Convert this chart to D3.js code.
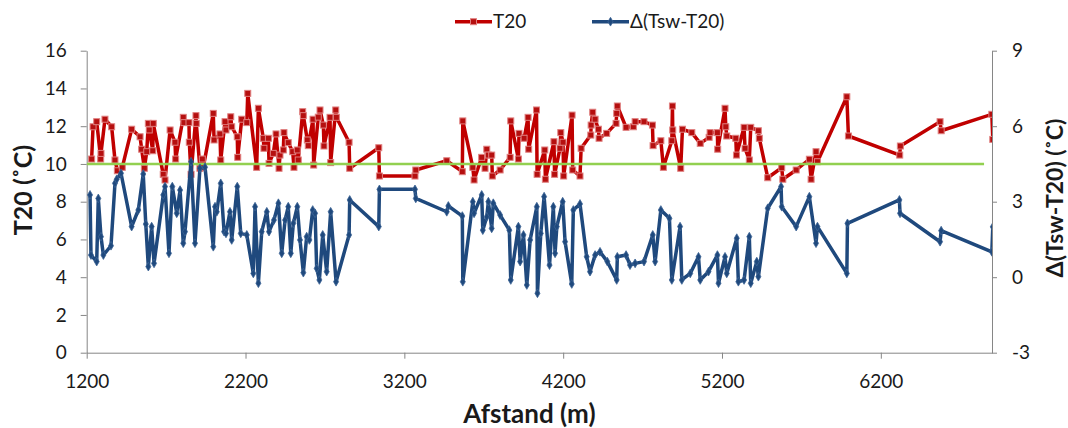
<!DOCTYPE html>
<html>
<head>
<meta charset="utf-8">
<script src="https://cdn.jsdelivr.net/npm/d3@7"></script>
<style>
  html, body { margin: 0; padding: 0; background: #fff; }
  svg { display: block; font-family: Lato, "Open Sans", sans-serif; }
</style>
</head>
<body>
<svg id="chart" width="1068" height="428"></svg>
<script>
// T20 along the transect: distance (m) and temperature (°C)
const distT20 = [1231,1240,1263,1288,1290,1315,1357,1378,1393,1424,1483,1536,1546,1563,1578,1588,1594,1616,1619,1682,
  1693,1725,1756,1760,1808,1812,1844,1846,1857,1888,1890,1913,1928,1934,1997,2002,2039,2044,2071,2077,
  2107,2113,2148,2151,2176,2208,2214,2270,2281,2312,2316,2344,2348,2375,2392,2411,2417,2438,2442,2469,
  2497,2505,2526,2532,2560,2564,2589,2595,2625,2629,2658,2669,2690,2694,2732,2736,2768,2772,2852,2856,
  3039,3043,3267,3272,3467,3565,3568,3631,3639,3687,3708,3719,3729,3750,3754,3803,3866,3870,3918,3922,
  3954,3979,3983,4032,4036,4084,4088,4142,4146,4180,4185,4199,4203,4256,4260,4306,4313,4374,4376,4386,
  4401,4422,4426,4474,4533,4537,4541,4596,4642,4653,4709,4762,4766,4815,4831,4884,4888,4890,4940,4951,
  5010,5063,5119,5125,5171,5173,5219,5224,5230,5287,5291,5339,5345,5372,5381,5429,5435,5488,5576,5583,
  5667,5750,5761,5792,5801,5986,5996,6319,6323,6573,6580,6899,6905];
const valT20 = [10.26,11.97,12.24,10.26,10.56,12.37,11.97,10.21,9.64,9.82,11.84,11.44,10.78,9.77,10.65,12.15,11.80,10.70,12.15,9.45,
  9.15,11.80,11.15,10.26,12.47,12.19,12.19,11.15,9.45,12.56,12.15,9.77,10.26,9.82,12.68,11.27,11.59,10.21,12.24,11.80,
  12.50,11.97,11.44,10.35,12.37,12.19,13.74,9.82,12.95,11.36,10.83,11.36,10.03,10.56,11.59,9.77,10.47,10.74,11.66,11.13,
  10.65,9.82,10.74,10.21,12.77,12.56,11.27,10.97,12.37,9.94,12.48,12.86,12.06,10.95,12.47,10.07,12.86,12.47,11.15,9.77,
  10.86,9.36,9.36,9.68,10.17,9.59,12.28,9.82,9.15,10.35,9.77,10.78,10.47,10.47,9.36,9.68,10.35,12.28,10.26,11.62,
  11.36,12.47,10.78,12.86,9.45,10.74,9.19,11.18,9.45,10.83,11.66,11.15,9.36,12.59,9.68,9.36,10.83,11.53,12.06,12.74,
  12.37,11.84,11.36,11.62,12.15,12.68,13.07,11.94,11.97,12.24,12.24,12.06,10.97,11.23,9.82,11.23,13.07,11.80,9.77,11.84,
  11.66,11.09,11.41,11.66,11.66,10.78,12.95,11.97,11.48,11.36,10.47,11.94,10.83,10.21,11.94,11.76,11.36,9.27,9.80,9.19,
  9.68,10.25,9.19,10.65,10.12,13.56,11.48,10.47,10.95,12.24,11.76,12.63,11.30];

// Δ(Tsw-T20) along the transect: distance (m) and difference (°C)
const distDelta = [1221,1227,1263,1273,1290,1305,1353,1378,1389,1416,1483,1525,1556,1572,1588,1609,1624,1682,1693,1718,
  1739,1767,1788,1808,1819,1857,1882,1913,1945,1997,2008,2019,2044,2065,2077,2102,2113,2148,2170,2208,
  2249,2260,2281,2302,2334,2348,2379,2407,2428,2449,2469,2485,2501,2526,2543,2564,2585,2602,2623,2638,
  2648,2665,2686,2711,2736,2770,2852,2856,3039,3043,3267,3272,3467,3477,3565,3568,3631,3639,3687,3694,
  3719,3729,3750,3760,3803,3861,3870,3918,3929,3950,3971,3992,4034,4038,4059,4080,4114,4138,4149,4160,
  4197,4212,4254,4264,4306,4348,4369,4401,4432,4478,4537,4541,4596,4621,4653,4709,4764,4779,4815,4869,
  4884,4936,4947,5000,5052,5063,5115,5171,5178,5219,5230,5293,5303,5339,5372,5381,5419,5429,5488,5572,
  5576,5667,5750,5792,5801,5986,5990,6317,6321,6573,6580,6899,6905];
const valDelta = [3.27,0.88,0.62,3.13,1.61,0.88,1.25,3.73,3.89,4.13,2.01,2.67,4.10,2.11,0.42,2.01,0.55,3.27,3.60,0.95,
  3.60,2.54,3.46,1.35,1.81,4.59,1.35,4.33,4.37,1.21,2.80,2.60,3.73,1.81,1.74,2.60,1.48,3.60,1.74,1.68,
  0.15,2.80,-0.24,1.81,2.60,1.81,2.27,2.94,0.95,2.27,2.80,0.95,2.14,2.80,1.48,0.18,1.61,1.48,2.67,2.54,
  0.35,-0.11,1.68,0.22,2.60,-0.18,1.68,3.07,2.01,3.49,3.49,3.13,2.60,2.83,2.43,-0.18,3.00,2.54,3.27,1.87,
  2.40,3.00,1.94,2.94,2.47,1.87,-0.11,2.01,0.62,1.68,-0.31,1.48,2.80,-0.64,1.74,3.20,0.48,2.80,0.95,2.01,
  3.00,1.41,-0.27,2.67,2.91,0.81,0.22,0.88,1.01,0.62,-0.11,0.81,0.88,0.48,0.55,0.62,1.68,0.62,2.67,2.34,
  -0.11,2.01,-0.11,0.15,0.81,-0.11,0.22,0.88,-0.24,0.81,0.15,1.55,-0.18,-0.11,1.61,-0.24,0.62,0.02,2.74,3.60,
  2.80,2.01,3.20,1.35,2.01,0.15,2.14,3.07,2.54,1.41,1.85,1.01,2.00];

// Horizontal reference at 10 °C
const refDist = [1200, 6850];
const refVal = [10, 10];

// Axis ticks
const xTicks = [1200, 2200, 3200, 4200, 5200, 6200];
const yLeftTicks = [0, 2, 4, 6, 8, 10, 12, 14, 16];
const yRightTicks = [-3, 0, 3, 6, 9];

const seriesNames = ["T20", "Δ(Tsw-T20)"];

const svg = d3.select("#chart");
const plot = { left: 86.7, right: 992, top: 50.7, bottom: 352.7 };

const x = d3.scaleLinear().domain([1200, 6900]).range([plot.left, plot.right]);
const yL = d3.scaleLinear().domain([0, 16]).range([plot.bottom, plot.top]);
const yR = d3.scaleLinear().domain([-3, 9]).range([plot.bottom, plot.top]);

const axisColor = "#868686";
const red = "#c00000";
const blue = "#1f497d";
const green = "#92d050";
const plain = d => String(d);

svg.append("defs").append("clipPath").attr("id", "plotClip")
  .append("rect")
  .attr("x", plot.left).attr("y", plot.top - 10)
  .attr("width", plot.right - plot.left).attr("height", plot.bottom - plot.top + 10);

// Axes
function styleAxis(g) {
  g.select(".domain").attr("stroke", axisColor).attr("stroke-width", 1);
  g.selectAll(".tick line").attr("stroke", axisColor);
  g.selectAll(".tick text").attr("fill", "#1a1a1a").style("font-size", "19px")
    .style("font-family", "Lato, 'Open Sans', sans-serif");
}

svg.append("g")
  .attr("transform", `translate(0,${plot.bottom})`)
  .call(d3.axisBottom(x).tickValues(xTicks).tickFormat(plain).tickSize(6).tickPadding(16).tickSizeOuter(0))
  .call(styleAxis);

svg.append("g")
  .attr("transform", `translate(${plot.left},0)`)
  .call(d3.axisLeft(yL).tickValues(yLeftTicks).tickFormat(plain).tickSize(6).tickPadding(14).tickSizeOuter(0))
  .call(styleAxis);

svg.append("g")
  .attr("transform", `translate(${plot.right},0)`)
  .call(d3.axisRight(yR).tickValues(yRightTicks).tickFormat(plain).tickSize(5).tickPadding(15).tickSizeOuter(0))
  .call(styleAxis);

// Axis titles
svg.append("text")
  .attr("x", (plot.left + plot.right) / 2 - 10).attr("y", 423)
  .attr("text-anchor", "middle")
  .style("font-weight", "bold").style("font-size", "26px").attr("fill", "#1a1a1a")
  .text("Afstand (m)");

svg.append("text")
  .attr("transform", "translate(32,190) rotate(-90)")
  .attr("text-anchor", "middle")
  .style("font-weight", "bold").style("font-size", "25px").attr("fill", "#1a1a1a")
  .text("T20 (˚C)");

svg.append("text")
  .attr("transform", "translate(1063,198) rotate(-90)")
  .attr("text-anchor", "middle")
  .style("font-weight", "bold").style("font-size", "23px").attr("fill", "#1a1a1a")
  .text("Δ(Tsw-T20) (˚C)");

// Series
const plotG = svg.append("g").attr("clip-path", "url(#plotClip)");

const t20Data = distT20.map((d, i) => [d, valT20[i]]);
const deltaData = distDelta.map((d, i) => [d, valDelta[i]]);
const refData = refDist.map((d, i) => [d, refVal[i]]);

const lineL = d3.line().x(d => x(d[0])).y(d => yL(d[1]));
const lineR = d3.line().x(d => x(d[0])).y(d => yR(d[1]));

plotG.append("path").datum(t20Data)
  .attr("d", lineL).attr("fill", "none").attr("stroke", red)
  .attr("stroke-width", 3.5).attr("stroke-linejoin", "round");

plotG.append("g").selectAll("rect").data(t20Data).join("rect")
  .attr("x", d => x(d[0]) - 3).attr("y", d => yL(d[1]) - 3)
  .attr("width", 6).attr("height", 6)
  .attr("fill", "#b50f0f").attr("stroke", "#e08080").attr("stroke-width", 1);

plotG.append("path").datum(refData)
  .attr("d", lineL).attr("fill", "none").attr("stroke", green).attr("stroke-width", 2.5);

plotG.append("path").datum(deltaData)
  .attr("d", lineR).attr("fill", "none").attr("stroke", blue)
  .attr("stroke-width", 3.5).attr("stroke-linejoin", "round");

const diamond = d3.symbol().type(d3.symbolDiamond).size(22);
plotG.append("g").selectAll("path").data(deltaData).join("path")
  .attr("transform", d => `translate(${x(d[0])},${yR(d[1])})`)
  .attr("d", diamond).attr("fill", blue).attr("stroke", "#3d6496").attr("stroke-width", 0.8);

// Legend
const legend = svg.append("g");
const legendItems = [
  { name: seriesNames[0], color: red, x0: 455, marker: "square" },
  { name: seriesNames[1], color: blue, x0: 592, marker: "diamond" }
];
legendItems.forEach(item => {
  const g = legend.append("g").attr("transform", `translate(${item.x0},21.7)`);
  g.append("line").attr("x1", 0).attr("x2", 37).attr("y1", 0).attr("y2", 0)
    .attr("stroke", item.color).attr("stroke-width", 3.5);
  if (item.marker === "square") {
    g.append("rect").attr("x", 15.5).attr("y", -3).attr("width", 6).attr("height", 6)
      .attr("fill", "#b50f0f").attr("stroke", "#e08080").attr("stroke-width", 1);
  } else {
    g.append("path").attr("transform", "translate(18.5,0)").attr("d", diamond)
      .attr("fill", item.color).attr("stroke", "#3d6496").attr("stroke-width", 0.8);
  }
  g.append("text").attr("x", 38).attr("y", 0).attr("dy", "0.35em")
    .style("font-size", "19px").attr("fill", "#1a1a1a").text(item.name);
});
</script>
</body>
</html>
